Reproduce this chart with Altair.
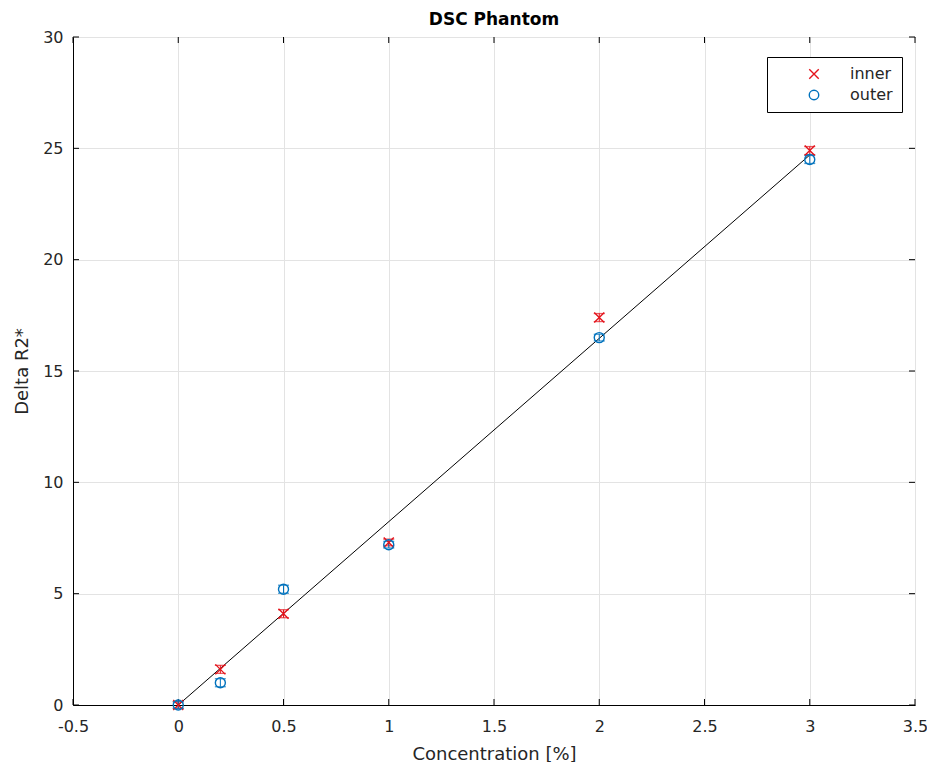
import altair as alt
import pandas as pd

# data
conc = [0, 0.2, 0.5, 1, 2, 3]
inner = [0.0, 1.6, 4.1, 7.3, 17.4, 24.9]
outer = [0.0, 1.0, 5.2, 7.2, 16.5, 24.5]
err_inner = [0.15, 0.18, 0.18, 0.15, 0.18, 0.18]
err_outer = [0.15, 0.18, 0.18, 0.15, 0.15, 0.18]
fit_x = [0, 3]
fit_y = [0.0, 24.7]
x_ticks = [-0.5, 0, 0.5, 1, 1.5, 2, 2.5, 3, 3.5]
y_ticks = [0, 5, 10, 15, 20, 25, 30]
title_text = ["DSC Phantom"]

W, H = 842, 668
FONT = "DejaVu Sans"
TXT = "#262626"
RED, BLUE = "#e4131b", "#0072BD"

rows = []
for c, v, e in zip(conc, inner, err_inner):
    rows.append({"x": c, "y": v, "lo": v - e, "hi": v + e, "series": "inner"})
for c, v, e in zip(conc, outer, err_outer):
    rows.append({"x": c, "y": v, "lo": v - e, "hi": v + e, "series": "outer"})
pts = pd.DataFrame(rows)
fit = pd.DataFrame({"x": fit_x, "y": fit_y})
xt = pd.DataFrame({"t": x_ticks})
yt = pd.DataFrame({"t": y_ticks})
tt = pd.DataFrame({"t": title_text})

xs = alt.Scale(domain=[-0.5, 3.5], nice=False, zero=False)
ys = alt.Scale(domain=[0, 30], nice=False)

xax = alt.Axis(values=x_ticks, title="Concentration [%]", grid=True, tickSize=0,
               labelPadding=13, titlePadding=11, labelFlush=False,
               labelExpr="toString(datum.value)")
yax = alt.Axis(values=y_ticks, title="Delta R2*", grid=True, tickSize=0,
               labelPadding=10, titlePadding=11, labelFlush=False,
               labelExpr="toString(datum.value)")

cscale = alt.Scale(domain=["inner", "outer"], range=[RED, BLUE])
sscale = alt.Scale(domain=["inner", "outer"],
                   range=["M-1,-1L1,1M-1,1L1,-1", "circle"])
leg = alt.Legend(title=None)

fitline = alt.Chart(fit).mark_line(color="black", strokeWidth=1).encode(
    x=alt.X("x:Q", scale=xs, axis=xax),
    y=alt.Y("y:Q", scale=ys, axis=yax),
)


def err_layers(name, col):
    base = alt.Chart(pts).transform_filter(alt.datum.series == name)
    r = base.mark_rule(strokeWidth=1, color=col).encode(
        x=alt.X("x:Q", scale=xs), y=alt.Y("lo:Q", scale=ys), y2="hi:Q")
    lo = base.mark_tick(orient="horizontal", size=11, thickness=1.3, color=col).encode(
        x=alt.X("x:Q", scale=xs), y=alt.Y("lo:Q", scale=ys))
    hi = base.mark_tick(orient="horizontal", size=11, thickness=1.3, color=col).encode(
        x=alt.X("x:Q", scale=xs), y=alt.Y("hi:Q", scale=ys))
    return [r, lo, hi]


points = alt.Chart(pts).mark_point(filled=False, size=100, strokeWidth=1.4, opacity=1).encode(
    x=alt.X("x:Q", scale=xs),
    y=alt.Y("y:Q", scale=ys),
    color=alt.Color("series:N", scale=cscale, legend=leg),
    shape=alt.Shape("series:N", scale=sscale, legend=leg),
)

tick_len = 6
xt_bot = alt.Chart(xt).mark_rule(color="black").encode(
    x=alt.X("t:Q", scale=xs), y=alt.value(H), y2=alt.value(H - tick_len))
xt_top = alt.Chart(xt).mark_rule(color="black").encode(
    x=alt.X("t:Q", scale=xs), y=alt.value(0), y2=alt.value(tick_len))
yt_left = alt.Chart(yt).mark_rule(color="black").encode(
    y=alt.Y("t:Q", scale=ys), x=alt.value(0), x2=alt.value(tick_len))
yt_right = alt.Chart(yt).mark_rule(color="black").encode(
    y=alt.Y("t:Q", scale=ys), x=alt.value(W), x2=alt.value(W - tick_len))

title = alt.Chart(tt).mark_text(font=FONT, fontSize=17, fontWeight="bold",
                                color="black", baseline="middle").encode(
    text="t:N", x=alt.value(W / 2), y=alt.value(-17))

chart = alt.layer(
    fitline, xt_bot, xt_top, yt_left, yt_right,
    *err_layers("inner", RED), *err_layers("outer", BLUE), points, title
).properties(
    width=W, height=H,
    autosize=alt.AutoSizeParams(type="none"),
    padding={"left": 65, "top": 29, "right": 12, "bottom": 57},
).configure_view(
    stroke="black", strokeWidth=1
).configure_axis(
    domainColor="black", domainWidth=1,
    gridColor="#e3e3e3", gridWidth=1,
    labelFont=FONT, labelFontSize=16, labelColor=TXT,
    titleFont=FONT, titleFontSize=18, titleColor=TXT, titleFontWeight="normal",
).configure_legend(
    orient="none", legendX=694, legendY=20,
    strokeColor="black", fillColor="white", padding=9,
    labelFont=FONT, labelFontSize=16, labelColor=TXT,
    symbolSize=90, symbolStrokeWidth=1.4, symbolFillColor="transparent",
    rowPadding=5, labelOffset=28, symbolOffset=30,
)

chart.save("out.html", embed_options={"renderer": "svg", "actions": False})
